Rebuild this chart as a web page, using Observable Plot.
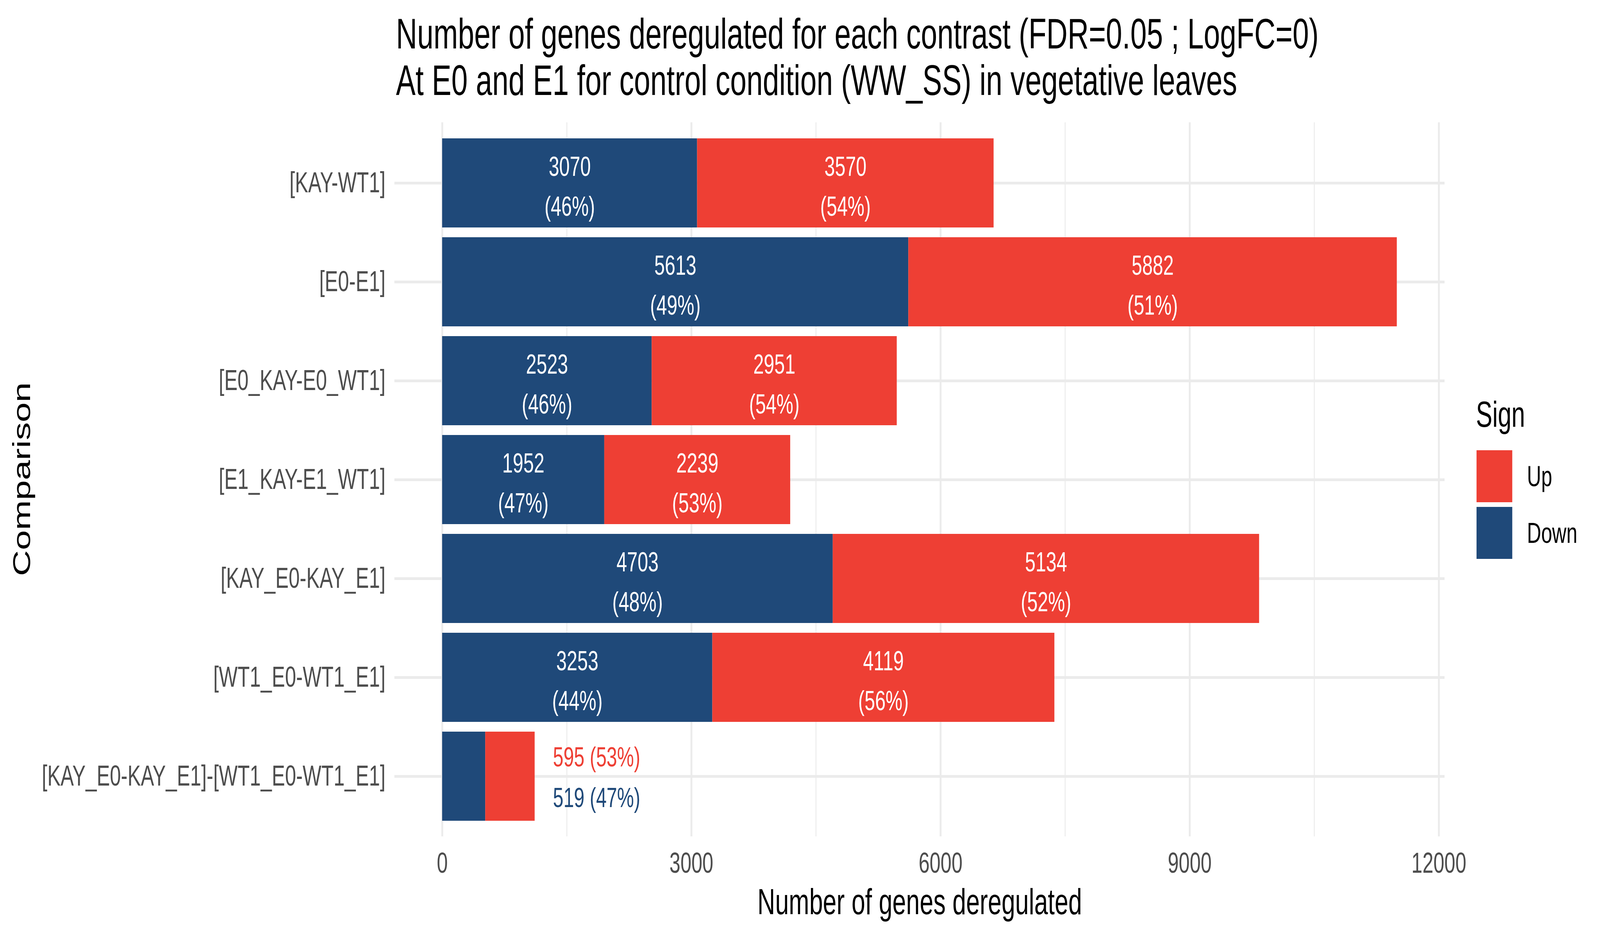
<!DOCTYPE html>
<html>
<head>
<meta charset="utf-8">
<script src="https://cdn.jsdelivr.net/npm/d3@7"></script>
<script src="https://cdn.jsdelivr.net/npm/@observablehq/plot@0.6"></script>
<style>
html, body { margin: 0; padding: 0; background: #ffffff; overflow: hidden; }
#chart { position: relative; width: 100vw; height: 100vh; font-family: "Liberation Sans", Arial, sans-serif; }
#chart svg { display: block; width: 100vw; height: 100vh; max-width: none; }
</style>
</head>
<body>
<div id="chart"></div>
<script>
// ---- data ----
const comparisons = [
  "[KAY-WT1]",
  "[E0-E1]",
  "[E0_KAY-E0_WT1]",
  "[E1_KAY-E1_WT1]",
  "[KAY_E0-KAY_E1]",
  "[WT1_E0-WT1_E1]",
  "[KAY_E0-KAY_E1]-[WT1_E0-WT1_E1]"
];
const downCounts = [3070, 5613, 2523, 1952, 4703, 3253, 519];
const upCounts   = [3570, 5882, 2951, 2239, 5134, 4119, 595];
const downPct    = [46, 49, 46, 47, 48, 44, 47];
const upPct      = [54, 51, 54, 53, 52, 56, 53];
const labelOutside = [false, false, false, false, false, false, true];

const signs = ["Up", "Down"];
const signColors = ["#EE3F34", "#1F4979"];
const xTicks = [0, 3000, 6000, 9000, 12000];
const xMinorTicks = [1500, 4500, 7500, 10500];

const titleLines = [
  "Number of genes deregulated for each contrast (FDR=0.05 ; LogFC=0)",
  "At E0 and E1 for control condition (WW_SS) in vegetative leaves"
];
const xLabel = "Number of genes deregulated";
const yLabel = "Comparison";
const legendTitle = "Sign";

// ---- tables built from the arrays ----
const rows = comparisons.flatMap((c, i) => [
  {comparison: c, sign: "Down", value: downCounts[i], pct: downPct[i], outside: labelOutside[i]},
  {comparison: c, sign: "Up", value: upCounts[i], pct: upPct[i], outside: labelOutside[i]}
]);
const insideRows = rows.filter(d => !d.outside);
const outsideRows = comparisons.map((c, i) => ({
  comparison: c, total: downCounts[i] + upCounts[i],
  up: upCounts[i], upPct: upPct[i], down: downCounts[i], downPct: downPct[i]
})).filter((d, i) => labelOutside[i]);

const totals = comparisons.map((c, i) => downCounts[i] + upCounts[i]);
const maxTotal = d3.max(totals);
const pad = 0.05 * maxTotal;

const FONT = '"Liberation Sans", Arial, sans-serif';
const GRID = "#EBEBEB";

const plot = Plot.plot({
  width: 6000,
  height: 2400,
  marginLeft: 1479,
  marginRight: 583,
  marginTop: 313,
  marginBottom: 260,
  style: {fontFamily: FONT, background: "#ffffff", overflow: "visible"},
  x: {domain: [-pad, maxTotal + pad]},
  y: {domain: comparisons, paddingInner: 0.1, paddingOuter: 0.15, align: 0.5},
  color: {domain: signs, range: signColors},
  marks: [
    Plot.gridX(xMinorTicks, {stroke: GRID, strokeOpacity: 1, strokeWidth: 3.5}),
    Plot.gridX(xTicks, {stroke: GRID, strokeOpacity: 1, strokeWidth: 7}),
    Plot.gridY(comparisons, {stroke: GRID, strokeOpacity: 1, strokeWidth: 7}),
    Plot.axisX(xTicks, {tickSize: 0, tickPadding: 40, fontSize: 74, color: "#4D4D4D", label: null, tickFormat: d3.format("d")}),
    Plot.axisY({tickSize: 0, tickPadding: 34, fontSize: 74.5, color: "#4D4D4D", label: null}),
    Plot.barX(rows, {x: "value", y: "comparison", fill: "sign", z: "sign"}),
    Plot.text(insideRows, Plot.stackX({
      x: "value", y: "comparison", z: "sign",
      text: d => `${d.value}\n(${d.pct}%)`,
      fill: "#ffffff", fontSize: 71, lineHeight: 1.44
    })),
    Plot.text(outsideRows, {
      x: "total", y: "comparison", text: d => `${d.up} (${d.upPct}%)`,
      fill: signColors[0], fontSize: 71, textAnchor: "start", dx: 68, dy: -48
    }),
    Plot.text(outsideRows, {
      x: "total", y: "comparison", text: d => `${d.down} (${d.downPct}%)`,
      fill: signColors[1], fontSize: 71, textAnchor: "start", dx: 68, dy: 56
    })
  ]
});

// The browser viewport may be narrower than 6000px; map the 6000x2400 drawing onto the whole window.
plot.setAttribute("preserveAspectRatio", "none");
document.getElementById("chart").appendChild(plot);

// ---- title, axis titles, legend ----
const svg = d3.select(plot);
const g = svg.append("g").attr("font-family", FONT).attr("text-anchor", "start");

g.selectAll("text.title").data(titleLines).join("text")
  .attr("class", "title")
  .attr("x", 1485)
  .attr("y", (d, i) => 124 + i * 119)
  .attr("font-size", 110)
  .attr("fill", "#000")
  .text(d => d);

g.append("text")
  .attr("x", 3449).attr("y", 2339)
  .attr("text-anchor", "middle")
  .attr("font-size", 92).attr("fill", "#000")
  .text(xLabel);

g.append("text")
  .attr("transform", "translate(113,1226) rotate(-90)")
  .attr("text-anchor", "middle")
  .attr("font-size", 92).attr("fill", "#000")
  .text(yLabel);

g.append("text")
  .attr("x", 5535).attr("y", 1092)
  .attr("font-size", 92).attr("fill", "#000")
  .text(legendTitle);

const keys = g.selectAll("g.key").data(signs).join("g")
  .attr("class", "key")
  .attr("transform", (d, i) => `translate(5537,${1152 + i * 145})`);
keys.append("rect")
  .attr("width", 134).attr("height", 133)
  .attr("fill", (d, i) => signColors[i]);
keys.append("text")
  .attr("x", 189).attr("y", 92)
  .attr("font-size", 74).attr("fill", "#000")
  .text(d => d);
</script>
</body>
</html>
